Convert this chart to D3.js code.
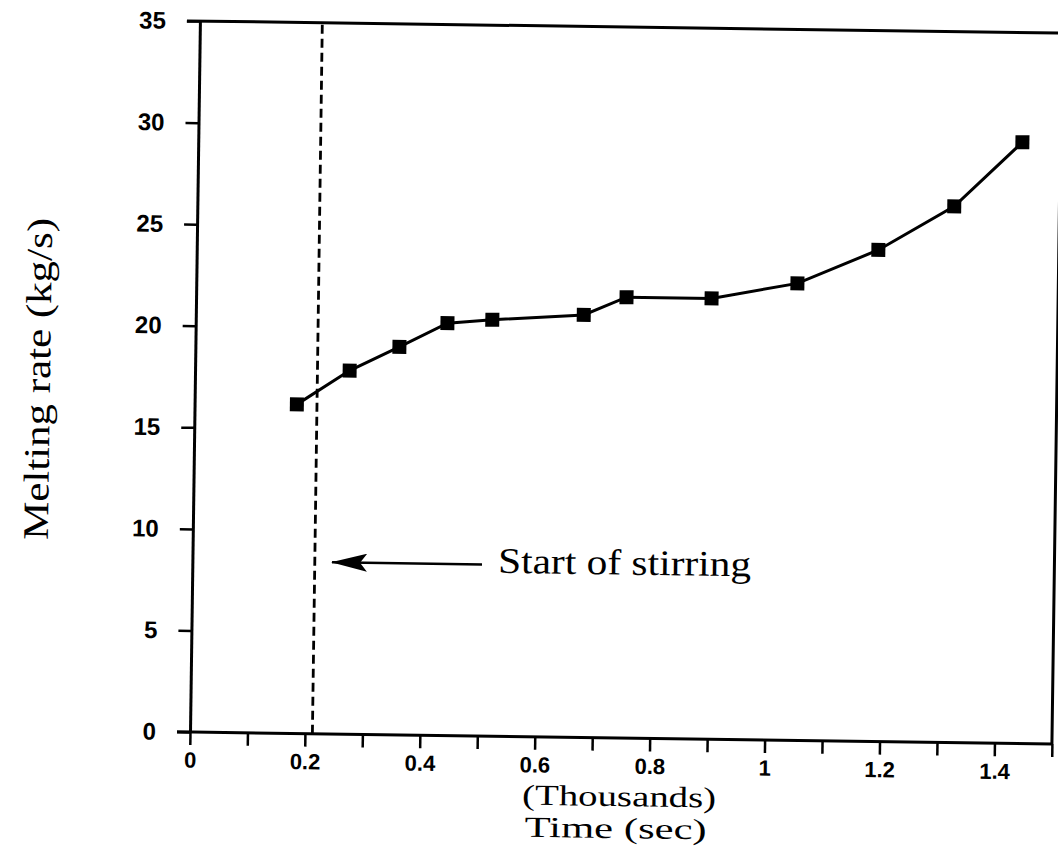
<!DOCTYPE html>
<html>
<head>
<meta charset="utf-8">
<script src="https://cdn.jsdelivr.net/npm/d3@7"></script>
<style>
  html, body { margin: 0; padding: 0; background: #fff; }
  svg { display: block; }
</style>
</head>
<body>
<script>
// ---- data (time in thousands of seconds, melting rate in kg/s) ----
const timeK = [0.178, 0.269, 0.355, 0.438, 0.516, 0.675, 0.749, 0.897, 1.046, 1.186, 1.317, 1.434];
const rate  = [16.2, 17.9, 19.1, 20.3, 20.5, 20.8, 21.7, 21.7, 22.5, 24.2, 26.4, 29.6];
const xTicks = [0, 0.1, 0.2, 0.3, 0.4, 0.5, 0.6, 0.7, 0.8, 0.9, 1.0, 1.1, 1.2, 1.3, 1.4, 1.5];
const xTickLabels = ["0", "", "0.2", "", "0.4", "", "0.6", "", "0.8", "", "1", "", "1.2", "", "1.4", ""];
const yTicks = [0, 5, 10, 15, 20, 25, 30, 35];
const stirStart = 0.213;
const arrowFrom = [0.504, 8.45];
const arrowTo = [0.243, 8.45];
const annotation = "Start of stirring";
const annotationAt = [0.532, 8.05];
const xTitle1 = "(Thousands)";
const xTitle2 = "Time (sec)";
const yTitle = "Melting rate (kg/s)";

const W = 1058, H = 857;
const plotW = 862, plotH = 711;

const svg = d3.select("body").append("svg").attr("width", W).attr("height", H);

const defs = svg.append("defs");
defs.append("marker").attr("id", "ah")
  .attr("viewBox", "0 0 36 18").attr("refX", 35).attr("refY", 9)
  .attr("markerWidth", 36).attr("markerHeight", 18)
  .attr("markerUnits", "userSpaceOnUse").attr("orient", "auto")
  .append("path").attr("d", "M36,9 L0,0 L7,9 L0,18 Z").attr("fill", "#000");

// scanned figure is slightly rotated
const g = svg.append("g").attr("transform", "translate(190,732) rotate(0.8)");

const x = d3.scaleLinear().domain([0, 1.5]).range([0, plotW]);
const y = d3.scaleLinear().domain([0, 35]).range([0, -plotH]);

// frame (top + right)
g.append("path")
  .attr("d", `M${x(0) - 13},${y(35)} L${x(1.5)},${y(35)} L${x(1.5)},${y(0)}`)
  .attr("fill", "none").attr("stroke", "#000").attr("stroke-width", 3);

// x axis
const xAxis = d3.axisBottom(x).tickValues(xTicks)
  .tickFormat((d, i) => xTickLabels[i]).tickSize(13).tickPadding(7).tickSizeOuter(0);
const gx = g.append("g").call(xAxis);
gx.select(".domain").attr("stroke-width", 3).attr("d", `M${x(0) - 13},0H${x(1.5)}`);
gx.selectAll(".tick line").attr("stroke-width", 2.5);
gx.selectAll(".tick text").attr("font-family", "'Liberation Sans', Arial, sans-serif")
  .attr("font-size", 22).attr("font-weight", "bold").attr("fill", "#000");

// y axis
const yAxis = d3.axisLeft(y).tickValues(yTicks).tickSize(13).tickPadding(21).tickSizeOuter(0);
const gy = g.append("g").call(yAxis);
gy.select(".domain").attr("stroke-width", 3);
gy.selectAll(".tick line").attr("stroke-width", 2.5);
gy.selectAll(".tick text").attr("font-family", "'Liberation Sans', Arial, sans-serif")
  .attr("font-size", 24).attr("font-weight", "bold").attr("fill", "#000");

// dashed line: start of stirring
g.append("line")
  .attr("x1", x(stirStart)).attr("x2", x(stirStart))
  .attr("y1", y(0)).attr("y2", y(35))
  .attr("stroke", "#000").attr("stroke-width", 2.8).attr("stroke-dasharray", "9,5");

// series line
const line = d3.line().x((d, i) => x(timeK[i])).y((d, i) => y(rate[i]));
g.append("path").datum(rate).attr("d", line)
  .attr("fill", "none").attr("stroke", "#000").attr("stroke-width", 3);

// markers
const s = 14;
g.selectAll("rect.pt").data(rate).enter().append("rect").attr("class", "pt")
  .attr("x", (d, i) => x(timeK[i]) - s / 2).attr("y", d => y(d) - s / 2)
  .attr("width", s).attr("height", s).attr("fill", "#000");

// arrow
g.append("line")
  .attr("x1", x(arrowFrom[0])).attr("y1", y(arrowFrom[1]))
  .attr("x2", x(arrowTo[0])).attr("y2", y(arrowTo[1]))
  .attr("stroke", "#000").attr("stroke-width", 2.5).attr("marker-end", "url(#ah)");

const serif = "'Liberation Serif', 'Times New Roman', serif";
g.append("text").attr("x", x(annotationAt[0])).attr("y", y(annotationAt[1]))
  .attr("font-family", serif).attr("font-size", 36)
  .attr("textLength", 253).attr("lengthAdjust", "spacingAndGlyphs")
  .text(annotation);

// axis titles
g.append("text").attr("x", 430).attr("y", 68).attr("text-anchor", "middle")
  .attr("font-family", serif).attr("font-size", 29)
  .attr("textLength", 194).attr("lengthAdjust", "spacingAndGlyphs")
  .text(xTitle1);
g.append("text").attr("x", 427).attr("y", 100).attr("text-anchor", "middle")
  .attr("font-family", serif).attr("font-size", 29)
  .attr("textLength", 182).attr("lengthAdjust", "spacingAndGlyphs")
  .text(xTitle2);
g.append("text").attr("transform", "translate(-145,-351) rotate(-90)")
  .attr("text-anchor", "middle")
  .attr("font-family", serif).attr("font-size", 36)
  .attr("textLength", 322).attr("lengthAdjust", "spacingAndGlyphs")
  .text(yTitle);
</script>
</body>
</html>
